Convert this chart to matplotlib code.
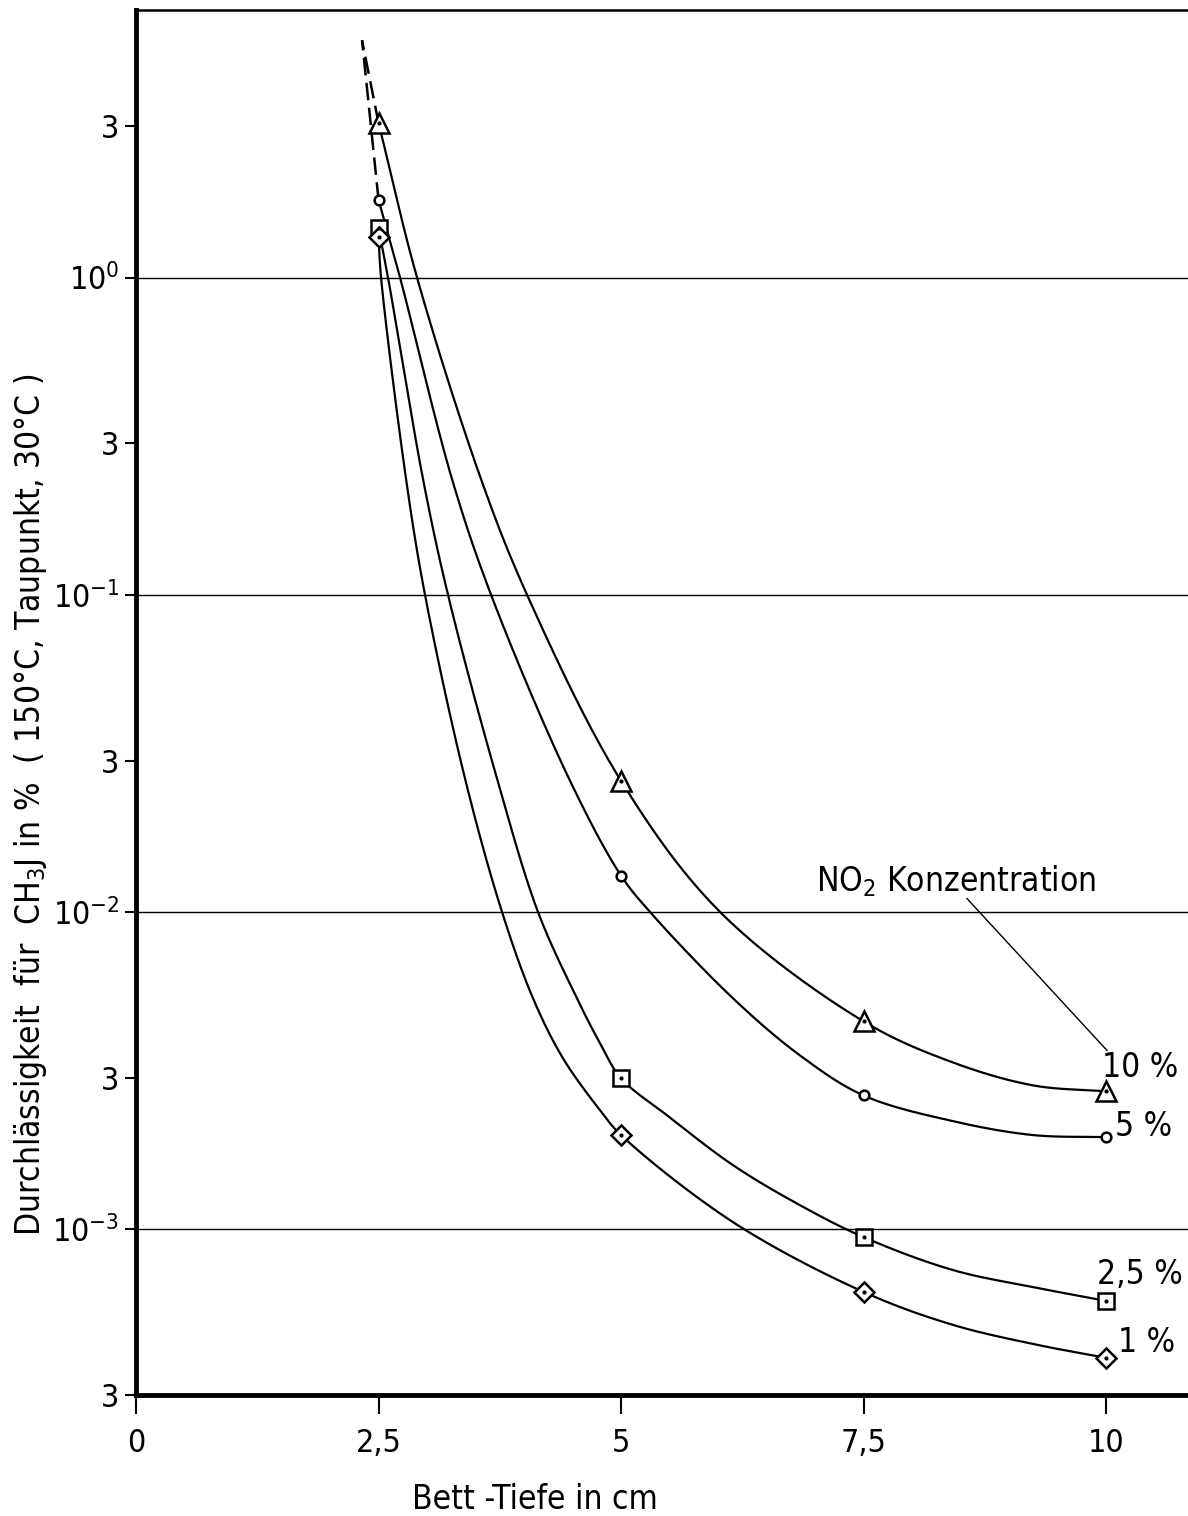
import numpy as np
import matplotlib
matplotlib.use("Agg")
import matplotlib.pyplot as plt

plt.rcParams['font.family'] = ['DejaVu Sans']
plt.rcParams['font.stretch'] = 'condensed'
plt.rcParams['mathtext.fontset'] = 'custom'
plt.rcParams['mathtext.rm'] = 'DejaVu Sans:stretch=condensed'
plt.rcParams['mathtext.default'] = 'regular'

# measured points (Bett-Tiefe in cm, Durchlaessigkeit in %)
depth = [2.5, 5.0, 7.5, 10.0]
p_10 = [3.075, 0.0259, 0.00452, 0.00272]
p_5 = [1.76, 0.01302, 0.00264, 0.00195]
p_25 = [1.437, 0.00299, 0.000944, 0.000594]
p_1 = [1.346, 0.00198, 0.000634, 0.000393]

# hand drawn curves
c10_x = [2.5, 2.897, 3.557, 4.031, 5.0, 6.021, 7.5, 8.392, 9.247, 10.0]
c10_y = [3.075, 1.0, 0.2313, 0.1, 0.0259, 0.01, 0.00452, 0.00338, 0.00284, 0.00272]

c5_x = [2.5, 2.722, 3.258, 3.660, 4.464, 5.0, 5.299, 6.155, 6.845, 7.5, 8.423, 9.247, 10.0]
c5_y = [1.76, 1.0, 0.2313, 0.1, 0.0263, 0.01302, 0.01, 0.00534, 0.00353, 0.00264, 0.00219, 0.00198, 0.00195]

c25_x = [2.5, 2.598, 2.959, 3.216, 3.722, 4.144, 4.546, 4.784, 5.0, 5.474, 6.155, 6.845, 7.5, 8.423, 9.289, 10.0]
c25_y = [1.437, 1.0, 0.2313, 0.1, 0.0263, 0.01, 0.00534, 0.003853, 0.00299, 0.002286, 0.001591, 0.00119, 0.000944, 0.000743, 0.000653, 0.000594]

c1_x = [2.5, 2.526, 2.784, 2.979, 3.392, 3.773, 4.093, 4.402, 4.784, 5.0, 6.155, 7.5, 8.423, 9.289, 10.0]
c1_y = [1.346, 1.0, 0.2313, 0.1, 0.0263, 0.01, 0.00534, 0.003456, 0.00237, 0.00198, 0.001052, 0.000634, 0.000499, 0.000432, 0.000393]

# dashed extrapolation above 2,5 cm
ext_x = [2.5, 2.33]
ext10_y = [3.075, 5.6]
ext5_y = [1.76, 5.6]

y_ticks = [3e-4, 1e-3, 3e-3, 1e-2, 3e-2, 1e-1, 3e-1, 1, 3]
y_labels = ['3', '$10^{-3}$', '3', '$10^{-2}$', '3', '$10^{-1}$', '3', '$10^{0}$', '3']
x_ticks = [0, 2.5, 5, 7.5, 10]
x_labels = ['0', '2,5', '5', '7,5', '10']
decades = [1e-3, 1e-2, 1e-1, 1]


def smooth_curve(xs, ys, n=25):
    # centripetal catmull-rom through the traced points, done in (x, log y)
    P = np.column_stack([np.asarray(xs) * 97.0, np.log10(ys) * 317.7])
    P = np.vstack([2 * P[0] - P[1], P, 2 * P[-1] - P[-2]])
    out = [P[1]]
    for i in range(1, len(P) - 2):
        p0, p1, p2, p3 = P[i - 1], P[i], P[i + 1], P[i + 2]
        t0 = 0.0
        t1 = t0 + np.linalg.norm(p1 - p0) ** 0.5
        t2 = t1 + np.linalg.norm(p2 - p1) ** 0.5
        t3 = t2 + np.linalg.norm(p3 - p2) ** 0.5
        t = np.linspace(t1, t2, n)[1:, None]
        a1 = (t1 - t) / (t1 - t0) * p0 + (t - t0) / (t1 - t0) * p1
        a2 = (t2 - t) / (t2 - t1) * p1 + (t - t1) / (t2 - t1) * p2
        a3 = (t3 - t) / (t3 - t2) * p2 + (t - t2) / (t3 - t2) * p3
        b1 = (t2 - t) / (t2 - t0) * a1 + (t - t0) / (t2 - t0) * a2
        b2 = (t3 - t) / (t3 - t1) * a2 + (t - t1) / (t3 - t1) * a3
        c = (t2 - t) / (t2 - t1) * b1 + (t - t1) / (t2 - t1) * b2
        out.extend(c)
    out = np.array(out)
    return out[:, 0] / 97.0, 10 ** (out[:, 1] / 317.7)


fig = plt.figure(figsize=(11.88, 15.16), dpi=100)
ax = fig.add_axes([0.1145, 0.0798, 0.8855, 0.9136])
ax.set_yscale('log')
ax.set_xlim(0, 10.845)
ax.set_ylim(3e-4, 6.975)

for d in decades:
    ax.axhline(d, color='black', lw=1.0, zorder=1)

lw = 1.6
for cx, cy in [(c10_x, c10_y), (c5_x, c5_y), (c25_x, c25_y), (c1_x, c1_y)]:
    sx, sy = smooth_curve(cx, cy)
    ax.plot(sx, sy, color='black', lw=lw, zorder=2)

ax.plot(ext_x, ext10_y, color='black', lw=1.8, ls=(0, (7, 3)), zorder=2)
ax.plot(ext_x, ext5_y, color='black', lw=1.8, ls=(0, (7, 3)), zorder=2)

mk = dict(color='black', ls='none', mfc='white', mec='black', mew=1.8, zorder=3)
ax.plot(depth, p_10, marker='^', ms=14, **mk)
ax.plot(depth, p_5, marker='o', ms=7, **mk)
ax.plot(depth, p_25, marker='s', ms=11, **mk)
ax.plot(depth, p_1, marker='D', ms=10, **mk)
# small centre dots
for vals in (p_10, p_25, p_1):
    ax.plot(depth, vals, marker='o', ms=2, ls='none', color='black', zorder=4)

fs = 24
ax.text(9.96, 0.00324, '10 %', fontsize=fs, va='center', ha='left')
ax.text(10.09, 0.00211, '5 %', fontsize=fs, va='center', ha='left')
ax.text(9.91, 0.000722, '2,5 %', fontsize=fs, va='center', ha='left')
ax.text(10.12, 0.000438, '1 %', fontsize=fs, va='center', ha='left')

ax.text(7.01, 0.01159, 'NO$_2$ Konzentration', fontsize=fs, va='baseline', ha='left')
ax.plot([8.567, 10.01], [0.01102, 0.00366], color='black', lw=1.0)

ax.yaxis.set_major_locator(matplotlib.ticker.FixedLocator(y_ticks))
ax.yaxis.set_minor_locator(matplotlib.ticker.NullLocator())
ax.set_yticklabels(y_labels)
ax.set_xticks(x_ticks)
ax.set_xticklabels(x_labels)
ax.tick_params(axis='y', direction='out', length=8, width=1.5, pad=4, labelsize=23)
ax.tick_params(axis='x', direction='out', length=14, width=1.5, pad=10, labelsize=23)

ax.spines['left'].set_linewidth(3.5)
ax.spines['bottom'].set_linewidth(3.5)
ax.spines['top'].set_linewidth(1.8)
ax.spines['right'].set_visible(False)

fig.text(0.026, 0.469, 'Durchlässigkeit  für  CH$_3$J in %  ( 150°C, Taupunkt, 30°C )',
         rotation=90, fontsize=fs, ha='center', va='center')
fig.text(0.45, 0.0106, 'Bett -Tiefe in cm', fontsize=fs, ha='center', va='center')

fig.savefig('out.png', dpi=100)
